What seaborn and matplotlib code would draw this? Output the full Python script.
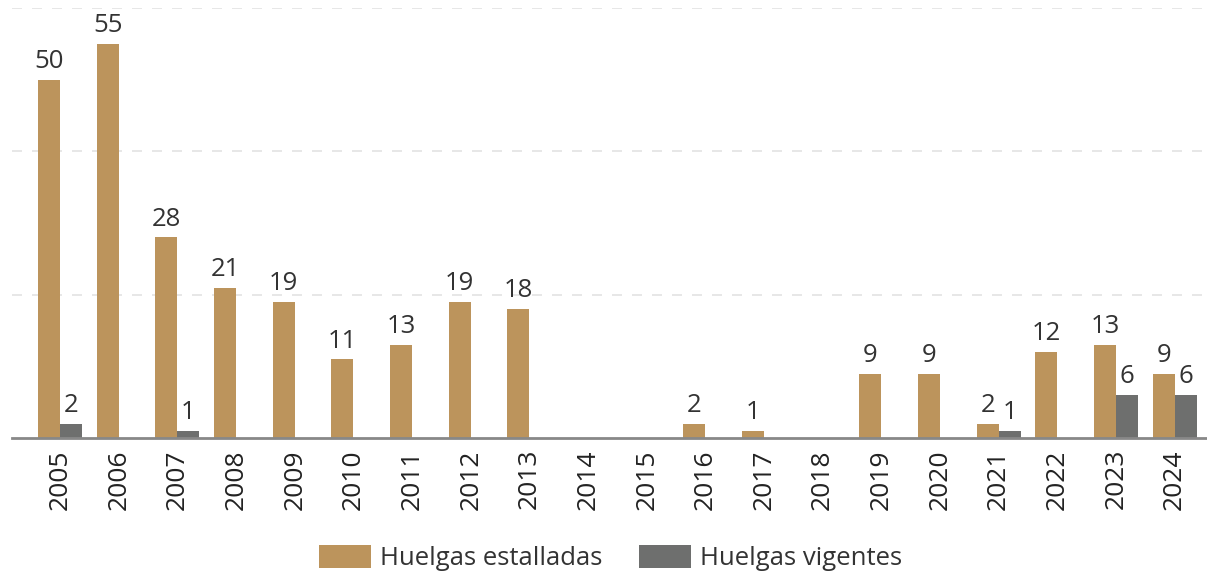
import pandas as pd
import matplotlib
matplotlib.use("Agg")
import matplotlib.pyplot as plt
import seaborn as sns

# Data
years = [str(y) for y in range(2005, 2025)]
estalladas = [50, 55, 28, 21, 19, 11, 13, 19, 18, 0, 0, 2, 1, 0, 9, 9, 2, 12, 13, 9]
vigentes = [2, 0, 1, 0, 0, 0, 0, 0, 0, 0, 0, 0, 0, 0, 0, 0, 1, 0, 6, 6]
series = ["Huelgas estalladas", "Huelgas vigentes"]
colors = ["#BC945C", "#6E6F6E"]

df = pd.DataFrame({
    "Año": years * 2,
    "Huelgas": estalladas + vigentes,
    "Serie": [series[0]] * len(years) + [series[1]] * len(years),
})

sns.set_style("white")
plt.rcParams["font.family"] = ["Open Sans", "DejaVu Sans"]

fig = plt.figure(figsize=(12.07, 5.73), dpi=100)
ax = fig.add_axes([12 / 1207, 135 / 573, 1195 / 1207, 430 / 573])

sns.barplot(data=df, x="Año", y="Huelgas", hue="Serie", palette=colors,
            width=0.75, saturation=1, linewidth=0, ax=ax, legend=True)

# value labels, only for non-zero bars
for cont, vals in zip(ax.containers, [estalladas, vigentes]):
    labels = [str(v) if v > 0 else "" for v in vals]
    ax.bar_label(cont, labels=labels, padding=4, fontsize=18.5, color="#333333")

ax.set_ylim(0, 60)
ax.set_xlim(-0.82, 19.55)
ax.set_yticks([20, 40, 60])
ax.set_yticklabels([])
ax.tick_params(axis="y", length=0)
ax.yaxis.grid(True, linestyle=(0, (6, 6)), color="#e3e3e3", linewidth=1.2)
ax.set_axisbelow(True)
ax.set_xlabel("")
ax.set_ylabel("")
ax.tick_params(axis="x", length=0, labelsize=19, rotation=90, colors="#222222", pad=8)

for s in ["top", "right", "left"]:
    ax.spines[s].set_visible(False)
ax.spines["bottom"].set_color("#888888")
ax.spines["bottom"].set_linewidth(2)

leg = ax.legend(loc="center", bbox_to_anchor=(0.501, -0.28), ncol=2, frameon=False,
                fontsize=18.5, handlelength=2.0, handleheight=0.95, columnspacing=1.45,
                handletextpad=0.35)
for t in leg.get_texts():
    t.set_color("#333333")

fig.savefig("out.png", dpi=100)
